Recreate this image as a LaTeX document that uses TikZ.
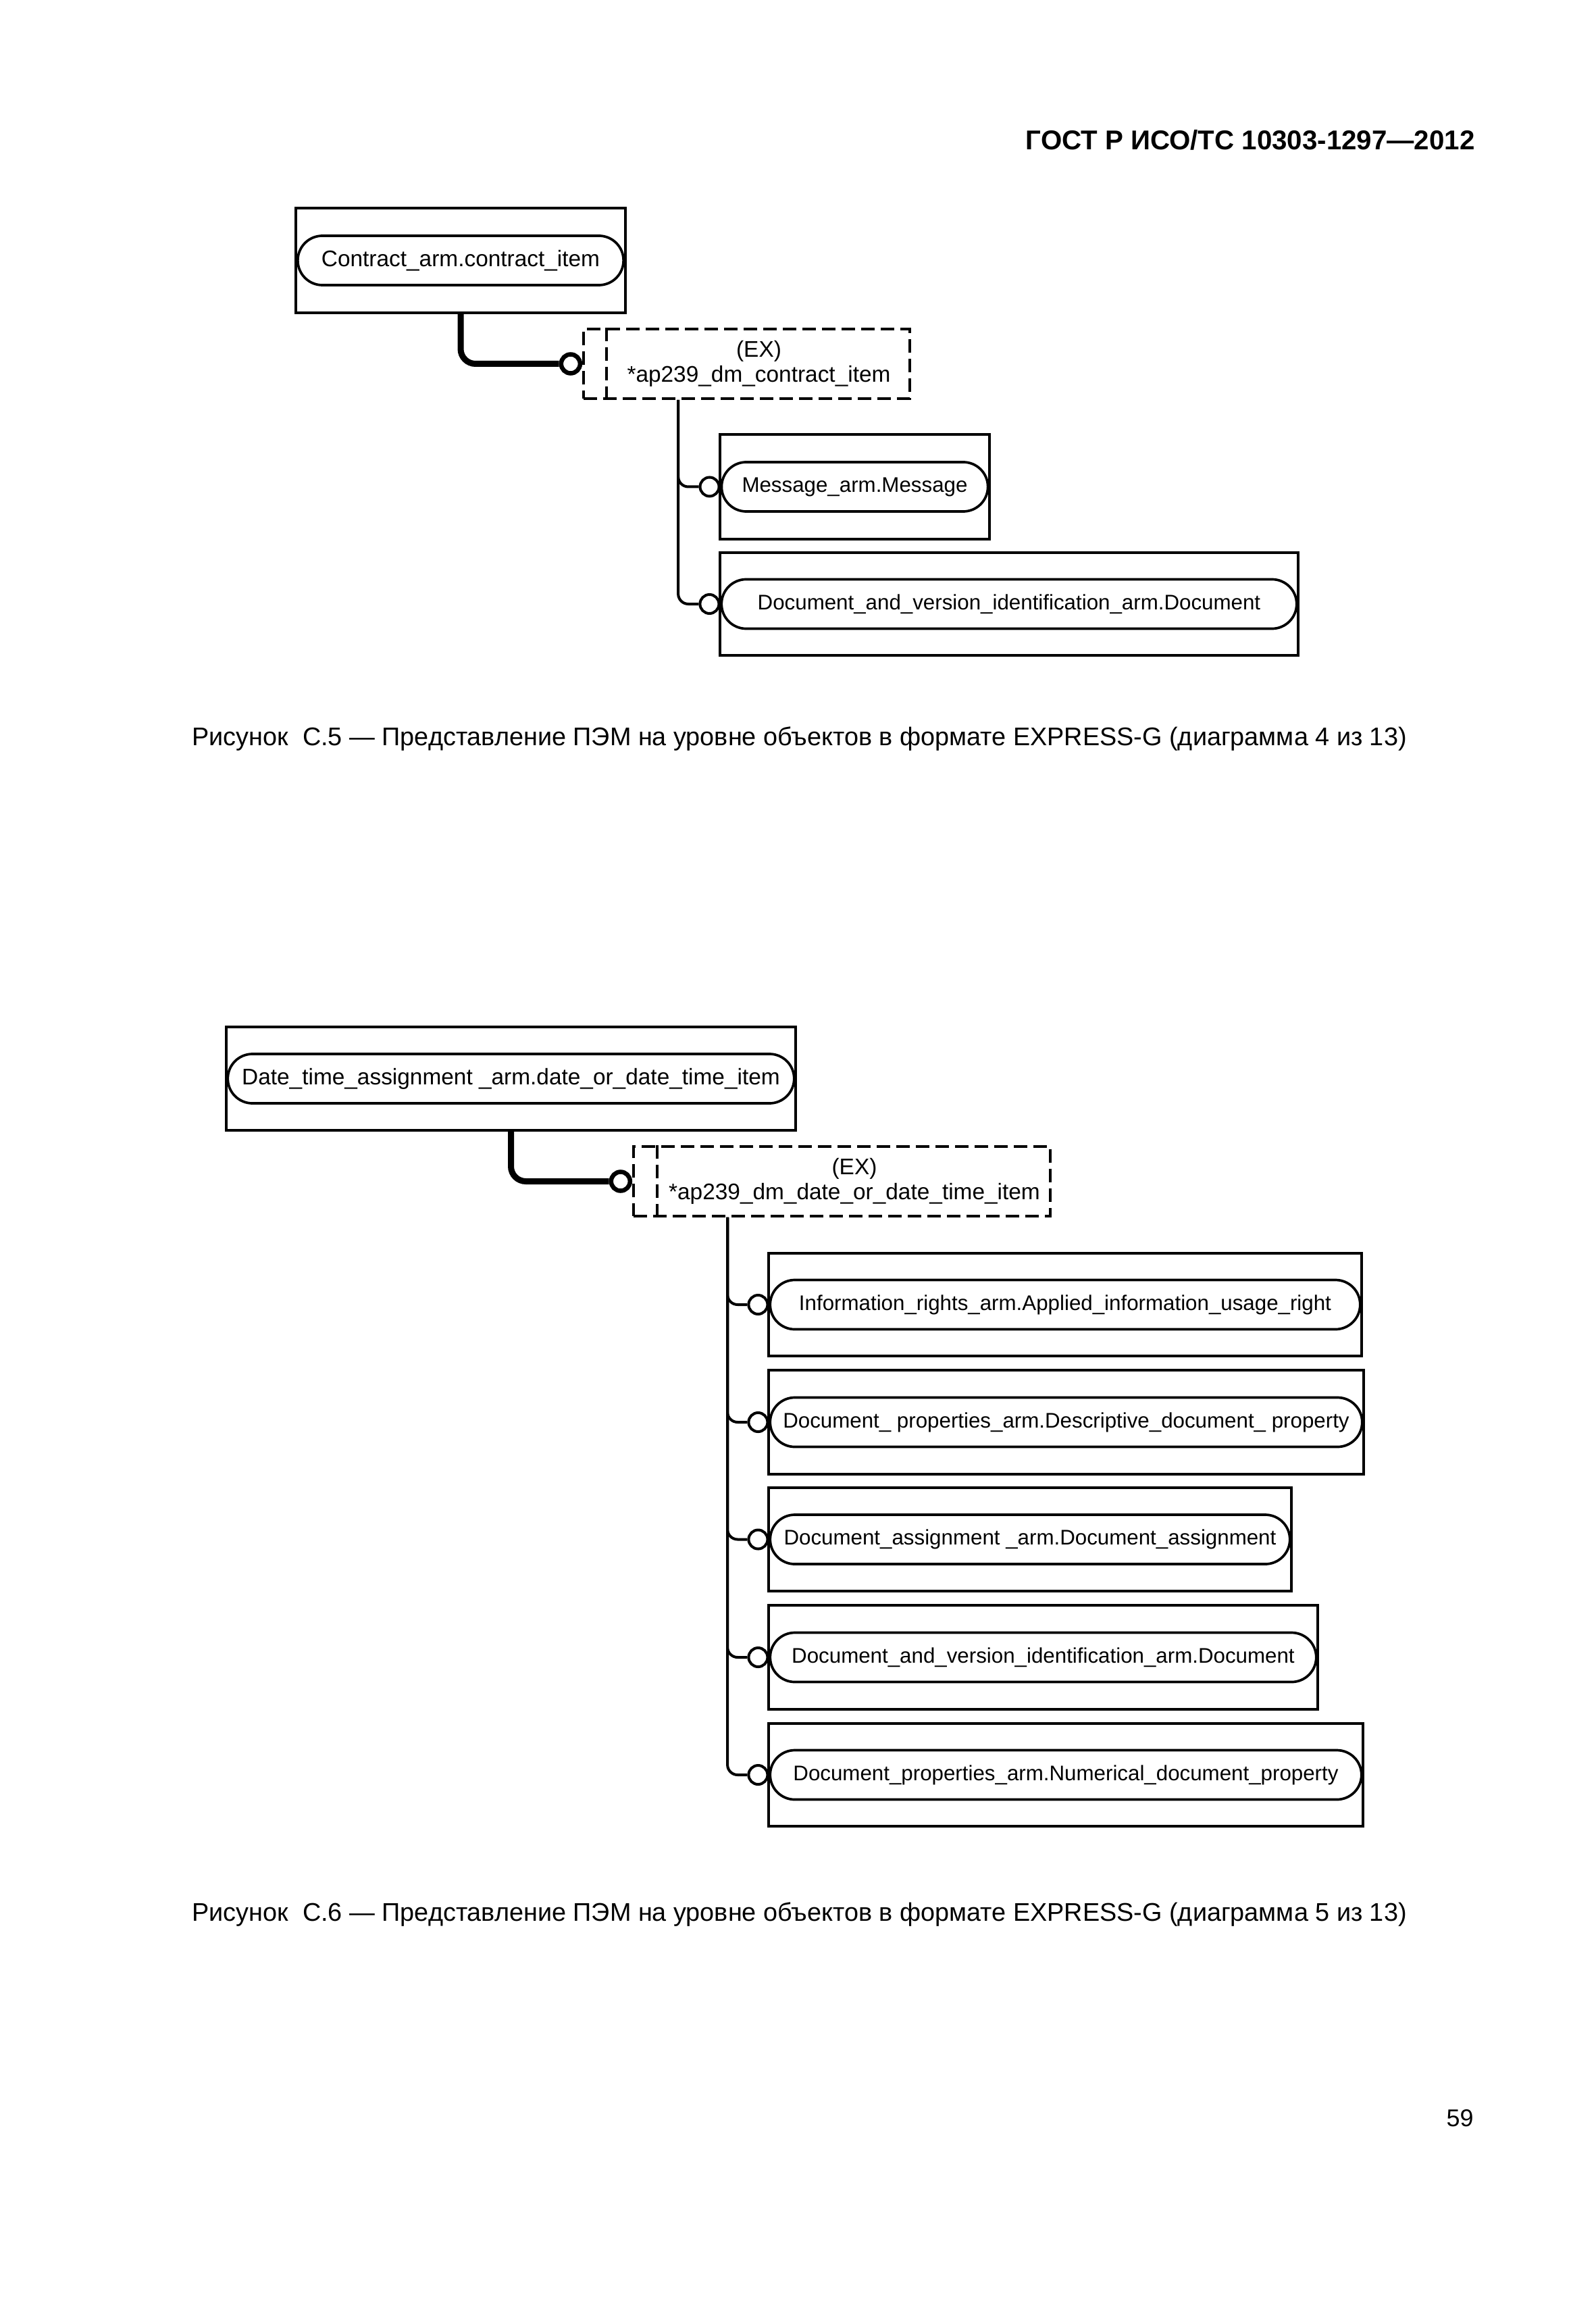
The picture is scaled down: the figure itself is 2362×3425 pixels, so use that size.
\documentclass[tikz,border=0pt]{standalone}
\usepackage{fontspec}
\setmainfont{Liberation Sans}
\usetikzlibrary{shapes.misc,calc}
\begin{document}
\begin{tikzpicture}[x=0.01cm,y=-0.01cm,
  outerbox/.style={draw,line width=0.04cm,rectangle,inner sep=0pt},
  pill/.style={draw,line width=0.037cm,rounded rectangle,inner sep=0pt,minimum height=0.73cm,fill=white},
  pfont/.style={font=\fontsize{9.5pt}{10.6pt}\selectfont},
  cfont/.style={font=\fontsize{8.9pt}{10pt}\selectfont},
  exbox/.style={draw,line width=0.035cm,dash pattern=on 0.2cm off 0.09cm,inner sep=0pt},
  exline/.style={line width=0.035cm,dash pattern=on 0.2cm off 0.09cm},
  ring/.style={draw,circle,line width=0.04cm,minimum size=0.28cm,inner sep=0pt,fill=white},
  thickring/.style={draw,circle,line width=0.065cm,minimum size=0.28cm,inner sep=0pt,fill=white},
  conn/.style={line width=0.04cm,rounded corners=0.15cm},
  thickconn/.style={line width=0.09cm,rounded corners=0.22cm},
  capfont/.style={font=\fontsize{10.75pt}{13pt}\selectfont}
]
\useasboundingbox (0,0) rectangle (2362,3425);
\fill[white] (0,0) rectangle (2362,3425);

% header
\node[anchor=base east,font=\fontsize{11.45pt}{14pt}\selectfont\bfseries] (hdr) at (2196,222) {ГОСТ Р ИСО/ТС 10303-1297—2012};

% ===== Diagram 1 =====
\node[outerbox,minimum width=4.885cm,minimum height=1.55cm] (b1) at (682,385.5) {};
\node[pill,pfont,minimum width=4.82cm] (p1) at (b1.center) {Contract\_arm.contract\_item};
\node[exbox,minimum width=4.83cm,minimum height=1.03cm] (ex1) at (1105.5,538.5) {};
\draw[exline] ($(ex1.north west)+(36,0)$) -- ($(ex1.south west)+(36,0)$);
\node[pfont,align=center,inner sep=0pt] (ex1t) at ($(ex1.center)+(18,0)$) {(EX)\\*ap239\_dm\_contract\_item};
\node[thickring,anchor=east] (c1) at (ex1.west) {};
\draw[thickconn] (b1.south) |- (c1.west);
\coordinate (s1) at ($(ex1.south west)+(142,0)$);

\node[outerbox,minimum width=3.99cm,minimum height=1.55cm] (bm) at (1265.5,720.5) {};
\node[pill,cfont,minimum width=3.94cm] (pm) at (bm.center) {Message\_arm.Message};
\node[ring,anchor=east] (cm) at (pm.west) {};
\node[outerbox,minimum width=8.56cm,minimum height=1.52cm] (bd) at (1494,894) {};
\node[pill,cfont,minimum width=8.51cm] (pd) at (bd.center) {Document\_and\_version\_identification\_arm.Document};
\node[ring,anchor=east] (cd) at (pd.west) {};
\draw[conn] (s1) |- (cm.west);
\draw[conn] (s1) |- (cd.west);

\node[capfont,anchor=base west] (cap1) at (272,1103) {Рисунок\ \ С.5 — Представление ПЭМ на уровне объектов в формате EXPRESS-G (диаграмма 4 из 13)};

% ===== Diagram 2 =====
\node[outerbox,minimum width=8.43cm,minimum height=1.53cm] (b2) at (756.5,1596.5) {};
\node[pill,pfont,minimum width=8.38cm] (p2) at (b2.center) {Date\_time\_assignment \_arm.date\_or\_date\_time\_item};
\node[exbox,minimum width=6.17cm,minimum height=1.03cm] (ex2) at (1246.5,1748.5) {};
\draw[exline] ($(ex2.north west)+(37,0)$) -- ($(ex2.south west)+(37,0)$);
\node[pfont,align=center,inner sep=0pt] (ex2t) at ($(ex2.center)+(18.5,0)$) {(EX)\\*ap239\_dm\_date\_or\_date\_time\_item};
\node[thickring,anchor=east] (c2) at (ex2.west) {};
\draw[thickconn] (b2.south) |- (c2.west);
\coordinate (s2) at ($(ex2.south west)+(141,0)$);

\node[outerbox,minimum width=8.78cm,minimum height=1.52cm] (bx1) at (1577,1931) {};
\node[pill,cfont,minimum width=8.73cm] (px1) at (bx1.center) {Information\_rights\_arm.Applied\_information\_usage\_right};
\node[ring,anchor=east] (cx1) at (px1.west) {};

\node[outerbox,minimum width=8.81cm,minimum height=1.54cm] (bx2) at (1578.5,2105) {};
\node[pill,cfont,minimum width=8.76cm] (px2) at (bx2.center) {Document\_ properties\_arm.Descriptive\_document\_ property};
\node[ring,anchor=east] (cx2) at (px2.west) {};

\node[outerbox,minimum width=7.74cm,minimum height=1.53cm] (bx3) at (1525,2278.5) {};
\node[pill,cfont,minimum width=7.69cm] (px3) at (bx3.center) {Document\_assignment \_arm.Document\_assignment};
\node[ring,anchor=east] (cx3) at (px3.west) {};

\node[outerbox,minimum width=8.13cm,minimum height=1.54cm] (bx4) at (1544.5,2453) {};
\node[pill,cfont,minimum width=8.08cm] (px4) at (bx4.center) {Document\_and\_version\_identification\_arm.Document};
\node[ring,anchor=east] (cx4) at (px4.west) {};

\node[outerbox,minimum width=8.80cm,minimum height=1.52cm] (bx5) at (1578,2627) {};
\node[pill,cfont,minimum width=8.75cm] (px5) at (bx5.center) {Document\_properties\_arm.Numerical\_document\_property};
\node[ring,anchor=east] (cx5) at (px5.west) {};

\draw[conn] (s2) |- (cx1.west);
\draw[conn] (s2) |- (cx2.west);
\draw[conn] (s2) |- (cx3.west);
\draw[conn] (s2) |- (cx4.west);
\draw[conn] (s2) |- (cx5.west);

\node[capfont,anchor=base west] (cap2) at (272,2843) {Рисунок\ \ С.6 — Представление ПЭМ на уровне объектов в формате EXPRESS-G (диаграмма 5 из 13)};

\node[anchor=base east,font=\fontsize{10.2pt}{12pt}\selectfont] (pg) at (2194,3147) {59};
\end{tikzpicture}
\end{document}
